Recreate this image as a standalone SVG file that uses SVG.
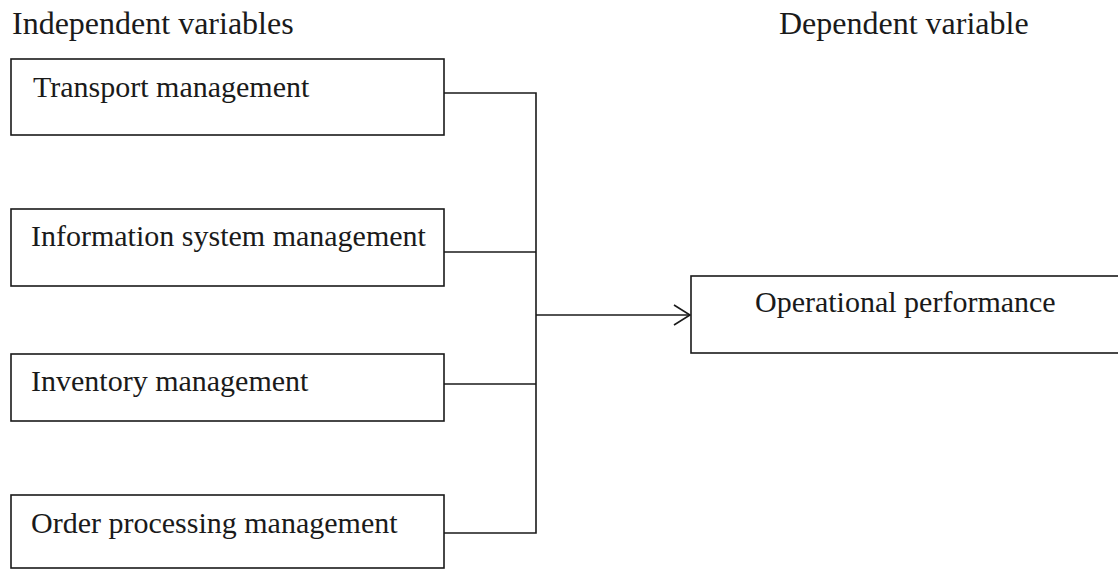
<svg xmlns="http://www.w3.org/2000/svg" width="1118" height="569" viewBox="0 0 1118 569">
<style>
text{font-family:"Liberation Serif","Times New Roman",serif;font-size:30px;fill:#1a1a1a}
.title{font-size:32px}
.box{fill:#fff;stroke:#1a1a1a;stroke-width:1.6}
.conn{fill:none;stroke:#1a1a1a;stroke-width:1.6}
</style>
<defs>
<marker id="arr" markerWidth="20" markerHeight="24" refX="17" refY="11" orient="auto" markerUnits="userSpaceOnUse">
<path d="M1,1 L17,11 L1,21" fill="none" stroke="#1a1a1a" stroke-width="1.6"/>
</marker>
</defs>
<rect width="1118" height="569" fill="#fff"/>
<text class="title" x="12" y="34">Independent variables</text>
<text class="title" x="779" y="34">Dependent variable</text>
<g id="connectors">
<path class="conn" d="M444,93 H536 V533 H444"/>
<path class="conn" d="M444,252 H536"/>
<path class="conn" d="M444,384 H536"/>
<path class="conn" d="M536,315 H690" marker-end="url(#arr)"/>
</g>
<g id="transport">
<rect class="box" x="11" y="59" width="433" height="76"/>
<text x="33" y="97">Transport management</text>
</g>
<g id="information">
<rect class="box" x="11" y="209" width="433" height="77"/>
<text x="31" y="246">Information system management</text>
</g>
<g id="inventory">
<rect class="box" x="11" y="354" width="433" height="67"/>
<text x="31" y="391">Inventory management</text>
</g>
<g id="order">
<rect class="box" x="11" y="495" width="433" height="73"/>
<text x="31" y="533">Order processing management</text>
</g>
<g id="operational">
<rect class="box" x="691" y="276" width="440" height="77"/>
<text x="755" y="312">Operational performance</text>
</g>
</svg>
